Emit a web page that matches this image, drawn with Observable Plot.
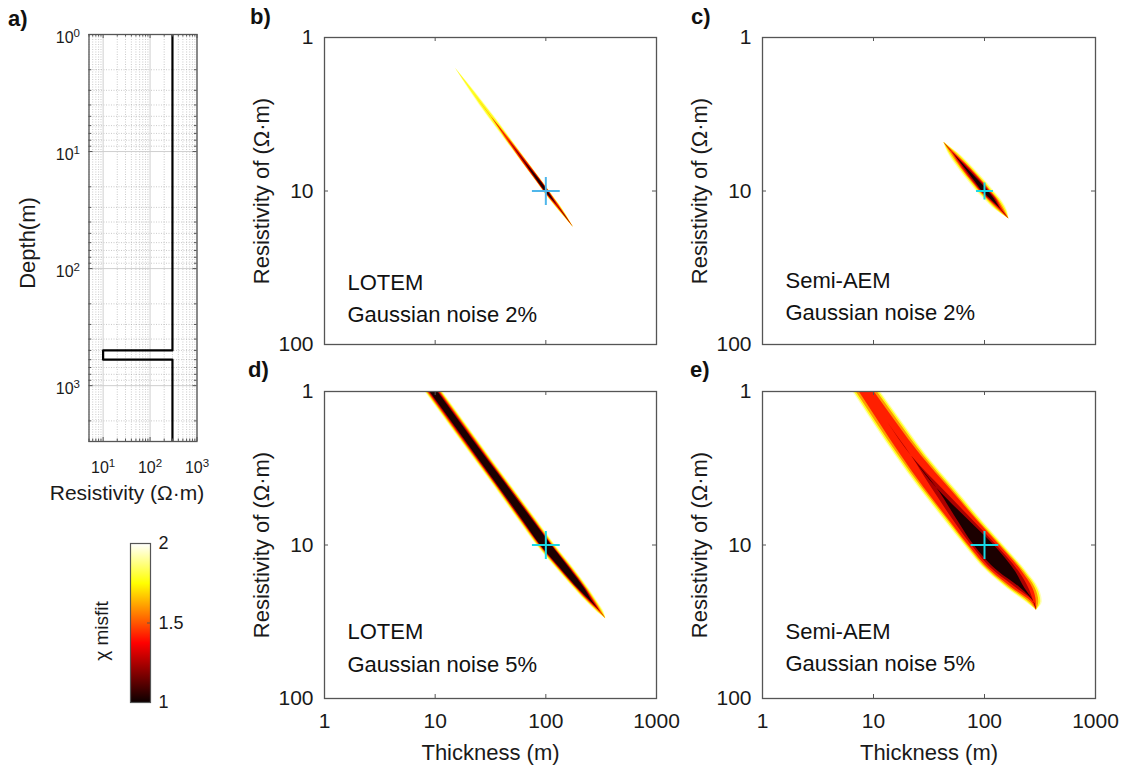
<!DOCTYPE html>
<html><head><meta charset="utf-8">
<script src="https://cdn.jsdelivr.net/npm/d3@7"></script>
<script src="https://cdn.jsdelivr.net/npm/@observablehq/plot@0.6"></script>
<style>
html,body{margin:0;padding:0;background:#fff;}
#fig{position:relative;width:1126px;height:767px;overflow:hidden;font-family:"Liberation Sans",Arial,sans-serif;}
.panel{position:absolute;}
.tag{position:absolute;font-weight:bold;font-size:22px;line-height:1;color:#111;}
</style></head>
<body>
<svg width="0" height="0" style="position:absolute">
<defs><linearGradient id="hotgrad" x1="0" y1="1" x2="0" y2="0">
<stop offset="0" stop-color="#0b0000"/><stop offset="0.375" stop-color="#ff0000"/><stop offset="0.75" stop-color="#ffff00"/><stop offset="1" stop-color="#ffffff"/>
</linearGradient></defs></svg>
<div id="fig"></div>
<script>
// ---------- data ----------
// a) true layered model
const modelLayerTop = [1, 500, 600];      // depth of each layer top (m)
const modelLayerRho = [300, 10, 300];     // resistivity (ohm.m)
const modelMaxDepth = 3000;

// tick values
const aXTicks = [10, 100, 1000];
const aYTicks = [1, 10, 100, 1000];
const aXMinor = [5, 6, 7, 8, 9, 20, 30, 40, 50, 60, 70, 80, 90, 200, 300, 400, 500, 600, 700, 800, 900];
const aYMinor = [2, 3, 4, 5, 6, 7, 8, 9, 20, 30, 40, 50, 60, 70, 80, 90, 200, 300, 400, 500, 600, 700, 800, 900, 2000, 3000];
const heatXTicks = [1, 10, 100, 1000];
const heatYTicks = [1, 10, 100];
const cbarTicks = [1, 1.5, 2];

// true model of the thin layer (cross)
const trueModel = [{thickness: 100, rho: 10}];

// misfit contour levels (outer to inner) and the misfit value used to fill each band
const misfitLevels = [2.0, 1.86, 1.7, 1.5, 1.33, 1.15];
const levelFill = [1.93, 1.78, 1.6, 1.42, 1.25, 1.04];

// Each panel: resistivity samples along the misfit valley, valley-centre thickness,
// and for each contour level the multiplicative spread of thickness around the centre.
// b) LOTEM, 2%
const bRho = [1.58, 2.28, 3.31, 4.55, 6.52, 8.81, 10, 12.4, 17.3];
const bCenter = [15.2, 22.1, 32.4, 45.0, 65.1, 88.8, 101, 126.5, 178];
const bSpread = [
  [1, 1.0532, 1.0753, 1.0753, 1.0753, 1.0753, 1.0753, 1.0642, 1],
  [1, 1.0316, 1.0532, 1.0532, 1.0532, 1.0532, 1.0532, 1.0532, 1],
  [1, 1, 1.0062, 1.0424, 1.0532, 1.0532, 1.0532, 1.0424, 1],
  [1, 1, 1, 1.0210, 1.0467, 1.0532, 1.0532, 1.0316, 1],
  [1, 1, 1, 1, 1.0252, 1.0424, 1.0424, 1.0104, 1],
  [1, 1, 1, 1, 1.0062, 1.0316, 1.0316, 1, 1]
];
// c) Semi-AEM, 2%
const cRho = [4.81, 5.62, 7.08, 8.91, 10, 11.2, 13.2, 15.2];
const cCenter = [43, 51.6, 67.8, 88.7, 101, 116.7, 140.6, 166];
const cSpread = [
  [1, 1.1093, 1.1804, 1.2051, 1.2051, 1.1927, 1.1325, 1],
  [1, 1.0865, 1.1443, 1.1683, 1.1683, 1.1562, 1.1093, 1],
  [1, 1.0532, 1.1093, 1.1325, 1.1325, 1.1208, 1.0753, 1],
  [1, 1.0210, 1.0865, 1.1093, 1.1093, 1.0978, 1.0424, 1],
  [1, 1, 1.0532, 1.0865, 1.0865, 1.0753, 1.0104, 1],
  [1, 1, 1.0210, 1.0532, 1.0642, 1.0424, 1, 1]
];
// d) LOTEM, 5%
const dRho = [1, 2.0, 3.98, 7.08, 10, 14.1, 19.5, 24.0, 27.5, 30.2];
const dCenter = [9.68, 19.5, 39.3, 70.5, 100, 148, 213, 268, 314, 348];
const dSpread = [
  [1.2051, 1.2051, 1.2051, 1.2177, 1.2177, 1.2051, 1.1683, 1.1208, 1.0753, 1],
  [1.1804, 1.1804, 1.1804, 1.1927, 1.1927, 1.1804, 1.1443, 1.0978, 1.0532, 1],
  [1.1562, 1.1562, 1.1562, 1.1683, 1.1683, 1.1562, 1.1208, 1.0753, 1.0316, 1],
  [1.1325, 1.1325, 1.1325, 1.1443, 1.1443, 1.1325, 1.0978, 1.0532, 1.0104, 1],
  [1.1093, 1.1093, 1.1208, 1.1325, 1.1325, 1.1208, 1.0865, 1.0316, 1, 1],
  [1.0865, 1.0865, 1.0978, 1.1093, 1.1208, 1.0978, 1.0642, 1.0104, 1, 1]
];
// e) Semi-AEM, 5%
const eRho = [1, 1.585, 2.63, 4.27, 7.08, 10, 14.96, 19.19, 23.44, 26.6];
const eCenter = [8.65, 13.4, 22.0, 37.3, 66.1, 98.6, 160, 222, 278, 294];
const eSpread = [
  [1.3367, 1.3647, 1.3934, 1.4524, 1.4828, 1.5139, 1.5139, 1.3934, 1.1927, 1],
  [1.2958, 1.3229, 1.3507, 1.4079, 1.4374, 1.4675, 1.4675, 1.3507, 1.1562, 1],
  [1.2431, 1.2692, 1.2958, 1.3507, 1.3790, 1.4226, 1.4226, 1.2958, 1.1093, 1],
  [1.1683, 1.1927, 1.2303, 1.2958, 1.3367, 1.3790, 1.3647, 1.2303, 1.0532, 1],
  [1, 1, 1, 1.1093, 1.2303, 1.2958, 1.2824, 1.1325, 1, 1],
  [1, 1, 1, 1, 1.1325, 1.2303, 1.1927, 1.0424, 1, 1]
];

// ---------- helpers ----------
const FONT = '"Liberation Sans", Arial, Helvetica, sans-serif';
const INK = "#1a1a1a", BOX = "#555";
const fig = document.getElementById("fig");
const clamp = v => Math.max(0, Math.min(1, v));
function hot(t) { // MATLAB "hot" colormap
  const r = Math.max(0.0417, clamp(t / 0.375)), g = clamp((t - 0.375) / 0.375), b = clamp((t - 0.75) / 0.25);
  return d3.rgb(r * 255, g * 255, b * 255).formatHex();
}
function place(node, left, top) {
  const d = document.createElement("div");
  d.className = "panel"; d.style.left = left + "px"; d.style.top = top + "px";
  d.appendChild(node); fig.appendChild(d);
}
function tag(text, left, top) {
  const d = document.createElement("div");
  d.className = "tag"; d.style.left = left + "px"; d.style.top = top + "px";
  d.textContent = text; fig.appendChild(d);
}
const supChars = ["\u2070", "\u00B9", "\u00B2", "\u00B3"];
const pow10 = d => "10" + supChars[Math.round(Math.log10(d))];
function superscriptTicks(svg) {
  svg.querySelectorAll('g[aria-label$="tick label"] text').forEach(t => {
    const s = t.textContent;
    const k = supChars.indexOf(s.slice(2));
    if (!s.startsWith("10") || k < 0) return;
    t.textContent = "10";
    const ts = document.createElementNS("http://www.w3.org/2000/svg", "tspan");
    ts.setAttribute("dy", "-0.5em");
    ts.setAttribute("font-size", "0.72em");
    ts.textContent = String(k);
    t.appendChild(ts);
  });
}

// ---------- a) model ----------
const modelPath = modelLayerRho.flatMap((rho, i) => [
  {rho, depth: modelLayerTop[i]},
  {rho, depth: i + 1 < modelLayerTop.length ? modelLayerTop[i + 1] : modelMaxDepth}
]);
const AW = 108, AH = 407;
const panelA = Plot.plot({
  width: 88.5 + AW + 25, height: 14 + AH + 70,
  marginLeft: 88.5, marginRight: 25, marginTop: 14, marginBottom: 70,
  style: {fontFamily: FONT, color: INK, background: "transparent", overflow: "visible"},
  x: {type: "log", domain: [5, 1000], axis: null},
  y: {type: "log", domain: [1, 3000], reverse: true, axis: null},
  marks: [
    Plot.gridX(aXMinor, {stroke: "#a0a0a0", strokeOpacity: 0.7, strokeDasharray: "1,1.5", strokeWidth: 0.8}),
    Plot.gridY(aYMinor, {stroke: "#a0a0a0", strokeOpacity: 0.7, strokeDasharray: "1,1.5", strokeWidth: 0.8}),
    Plot.gridX(aXTicks, {stroke: "#cfcfcf", strokeOpacity: 1, strokeWidth: 1}),
    Plot.gridY(aYTicks, {stroke: "#cfcfcf", strokeOpacity: 1, strokeWidth: 1}),
    Plot.line(modelPath, {x: "rho", y: "depth", stroke: "#000", strokeWidth: 2.2, clip: true}),
    Plot.frame({stroke: BOX, strokeWidth: 1.3}),
    Plot.tickX(aXMinor, {x: d => d, stroke: BOX, insetBottom: AH - 2.5}),
    Plot.tickX(aXMinor, {x: d => d, stroke: BOX, insetTop: AH - 2.5}),
    Plot.tickY(aYMinor, {y: d => d, stroke: BOX, insetRight: AW - 2.5}),
    Plot.tickY(aYMinor, {y: d => d, stroke: BOX, insetLeft: AW - 2.5}),
    Plot.tickX(aXTicks, {x: d => d, stroke: BOX, insetBottom: AH - 4}),
    Plot.tickX(aXTicks, {x: d => d, stroke: BOX, insetTop: AH - 4}),
    Plot.tickY(aYTicks, {y: d => d, stroke: BOX, insetRight: AW - 4}),
    Plot.tickY(aYTicks, {y: d => d, stroke: BOX, insetLeft: AW - 4}),
    Plot.axisX({ticks: aXTicks, tickFormat: pow10, tickSize: 0, tickPadding: 20, fontSize: 16, label: null}),
    Plot.axisY({ticks: aYTicks, tickFormat: pow10, tickSize: 0, tickPadding: 9, dy: 3, fontSize: 16, label: null}),
    Plot.text(["Resistivity (\u03A9\u00B7m)"], {frameAnchor: "bottom", textAnchor: "middle", lineAnchor: "middle", dx: -16, dy: 52, fontSize: 21, fill: INK}),
    Plot.text(["Depth(m)"], {frameAnchor: "left", rotate: -90, textAnchor: "middle", lineAnchor: "middle", dx: -61.5, dy: 5, fontSize: 22, fill: INK})
  ]
});
superscriptTicks(panelA);
place(panelA, 0, 20);

// ---------- colour bar ----------
const cbar = Plot.plot({
  width: 60 + 20 + 45, height: 10 + 159 + 12,
  marginLeft: 60, marginRight: 45, marginTop: 10, marginBottom: 12,
  style: {fontFamily: FONT, color: INK, background: "transparent", overflow: "visible"},
  y: {domain: [1, 2], axis: null},
  marks: [
    Plot.frame({fill: "url(#hotgrad)", stroke: BOX, strokeWidth: 1.2}),
    Plot.tickY([1.5], {y: d => d, stroke: BOX, insetLeft: 17}),
    Plot.axisY({anchor: "right", ticks: cbarTicks, tickFormat: d => String(d), tickSize: 0, tickPadding: 8, fontSize: 18, label: null}),
    Plot.text(["\u03C7 misfit"], {frameAnchor: "left", rotate: -90, textAnchor: "middle", lineAnchor: "middle", dx: -29, dy: 8, fontSize: 19, fill: INK})
  ]
});
place(cbar, 70, 533);

// ---------- misfit panels ----------
function bandRows(rho, center, spreads) {
  return spreads.flatMap((s, k) => rho.map((r, i) => ({
    rho: r, lo: center[i] / s[i], hi: center[i] * s[i], level: misfitLevels[k], m: levelFill[k]
  })));
}
function heatPanel({rho, center, spreads, line1, line2, showX, W, crossR, crossColor, dy1, dy2}) {
  const H = 307, mL = 80, mR = 30, mT = 12, mB = showX ? 69 : 12;
  const rows = bandRows(rho, center, spreads);
  return Plot.plot({
    width: mL + W + mR, height: mT + H + mB,
    marginLeft: mL, marginRight: mR, marginTop: mT, marginBottom: mB,
    style: {fontFamily: FONT, color: INK, background: "transparent", overflow: "visible"},
    x: {type: "log", domain: [1, 1000], axis: null},
    y: {type: "log", domain: [1, 100], reverse: true, axis: null},
    color: {type: "linear", domain: [1, 2], interpolate: hot},
    marks: [
      Plot.areaX(rows, {y: "rho", x1: "lo", x2: "hi", z: "m", fill: "m", curve: "monotone-y", clip: true}),
      Plot.dot(trueModel, {x: "thickness", y: "rho", symbol: "plus", r: crossR, stroke: crossColor, strokeWidth: 2}),
      Plot.frame({stroke: BOX, strokeWidth: 1.3}),
      Plot.tickX(heatXTicks, {x: d => d, stroke: BOX, insetBottom: H - 4}),
      Plot.tickX(heatXTicks, {x: d => d, stroke: BOX, insetTop: H - 4}),
      Plot.tickY(heatYTicks, {y: d => d, stroke: BOX, insetRight: W - 4}),
      Plot.tickY(heatYTicks, {y: d => d, stroke: BOX, insetLeft: W - 4}),
      Plot.axisY({ticks: heatYTicks, tickFormat: d => String(d), tickSize: 0, tickPadding: 11, fontSize: 21, label: null}),
      showX ? Plot.axisX({ticks: heatXTicks, tickFormat: d => String(d), tickSize: 0, tickPadding: 15, fontSize: 21, label: null}) : null,
      Plot.text(["Resistivity of (\u03A9\u00B7m)"], {frameAnchor: "left", rotate: -90, textAnchor: "middle", lineAnchor: "middle", dx: -63, fontSize: 22, fill: INK}),
      showX ? Plot.text(["Thickness (m)"], {frameAnchor: "bottom", textAnchor: "middle", lineAnchor: "middle", dy: 54, fontSize: 22, fill: INK}) : null,
      Plot.text([line1], {frameAnchor: "bottom-left", textAnchor: "start", lineAnchor: "bottom", dx: 23, dy: dy1, fontSize: 22, fill: "#111"}),
      Plot.text([line2], {frameAnchor: "bottom-left", textAnchor: "start", lineAnchor: "bottom", dx: 23, dy: dy2, fontSize: 22, fill: "#111"})
    ]
  });
}

place(heatPanel({rho: bRho, center: bCenter, spreads: bSpread, line1: "LOTEM", line2: "Gaussian noise 2%",
  showX: false, W: 332, crossR: 9, crossColor: "#4fb6ea", dy1: -55, dy2: -23}), 243.5, 25);
place(heatPanel({rho: cRho, center: cCenter, spreads: cSpread, line1: "Semi-AEM", line2: "Gaussian noise 2%",
  showX: false, W: 333, crossR: 5.5, crossColor: "#19d9e6", dy1: -57, dy2: -25}), 682, 25);
place(heatPanel({rho: dRho, center: dCenter, spreads: dSpread, line1: "LOTEM", line2: "Gaussian noise 5%",
  showX: true, W: 332, crossR: 9, crossColor: "#19d9e6", dy1: -60, dy2: -27}), 243.5, 379);
place(heatPanel({rho: eRho, center: eCenter, spreads: eSpread, line1: "Semi-AEM", line2: "Gaussian noise 5%",
  showX: true, W: 333, crossR: 9, crossColor: "#19d9e6", dy1: -60, dy2: -28}), 682, 379);

// panel tags
tag("a)", 8, 8);
tag("b)", 250, 6);
tag("c)", 691, 6);
tag("d)", 248, 359);
tag("e)", 690, 359);
</script>
</body></html>
